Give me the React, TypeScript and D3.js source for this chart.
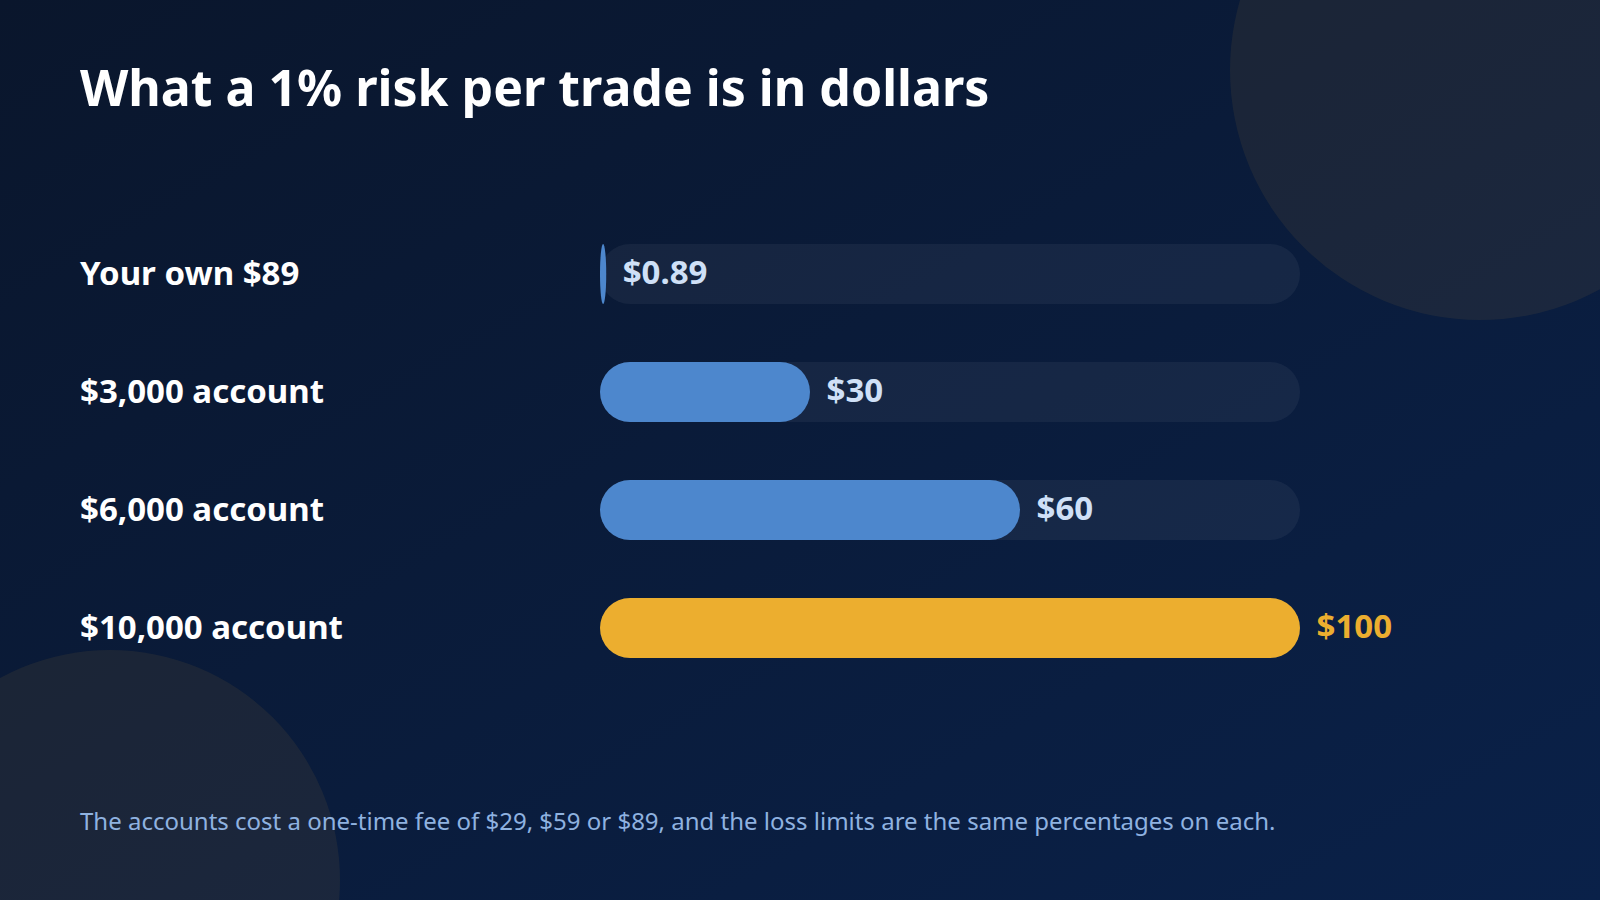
import { useEffect, useRef } from 'react';
import * as d3 from 'd3';

const WIDTH = 1600;
const HEIGHT = 900;

const categories = ['Your own $89', '$3,000 account', '$6,000 account', '$10,000 account'];
const riskValues = [0.89, 30, 60, 100];
const valueLabels = ['$0.89', '$30', '$60', '$100'];
const highlighted = [false, false, false, true];

const TITLE = 'What a 1% risk per trade is in dollars';
const FOOTNOTE =
  'The accounts cost a one-time fee of $29, $59 or $89, and the loss limits are the same percentages on each.';

const FONT = "'Noto Sans', 'Open Sans', sans-serif";

export default function App() {
  const svgRef = useRef<SVGSVGElement | null>(null);

  useEffect(() => {
    if (!svgRef.current) return;
    const svg = d3.select(svgRef.current);
    svg.selectAll('*').remove();

    const defs = svg.append('defs');
    const bg = defs
      .append('linearGradient')
      .attr('id', 'bg')
      .attr('x1', '0%')
      .attr('y1', '0%')
      .attr('x2', '100%')
      .attr('y2', '100%');
    bg.append('stop').attr('offset', '0%').attr('stop-color', '#0a162c');
    bg.append('stop').attr('offset', '100%').attr('stop-color', '#0a2149');

    svg.append('rect').attr('width', WIDTH).attr('height', HEIGHT).attr('fill', 'url(#bg)');

    // soft decorative circles
    svg.append('circle').attr('cx', 1480).attr('cy', 70).attr('r', 250).attr('fill', '#ecae2f').attr('opacity', 0.075);
    svg.append('circle').attr('cx', 110).attr('cy', 880).attr('r', 230).attr('fill', '#ecae2f').attr('opacity', 0.075);

    svg
      .append('text')
      .attr('x', 80)
      .attr('y', 106)
      .attr('fill', '#ffffff')
      .attr('font-family', FONT)
      .attr('font-size', 50)
      .attr('font-weight', 700)
      .text(TITLE);

    const xScale = d3.scaleLinear().domain([0, 100]).range([600, 1300]);
    const pad = 58 / 118;
    const yScale = d3
      .scaleBand<string>()
      .domain(categories)
      .range([215, 687])
      .paddingInner(pad)
      .paddingOuter(pad / 2);
    const bh = yScale.bandwidth();

    const rows = svg
      .append('g')
      .selectAll('g')
      .data(categories)
      .enter()
      .append('g')
      .attr('transform', (d) => `translate(0, ${yScale(d) ?? 0})`);

    rows
      .append('text')
      .attr('x', 80)
      .attr('y', bh / 2 + 10.5)
      .attr('fill', '#ffffff')
      .attr('font-family', FONT)
      .attr('font-size', 33)
      .attr('font-weight', 700)
      .text((d) => d);

    rows
      .append('rect')
      .attr('x', xScale(0))
      .attr('width', xScale(100) - xScale(0))
      .attr('height', bh)
      .attr('rx', bh / 2)
      .attr('fill', '#ffffff')
      .attr('opacity', 0.05);

    rows
      .append('rect')
      .attr('x', xScale(0))
      .attr('width', (_, i) => xScale(riskValues[i]) - xScale(0))
      .attr('height', bh)
      .attr('rx', bh / 2)
      .attr('fill', (_, i) => (highlighted[i] ? '#ecae2f' : '#4d87cd'));

    rows
      .append('text')
      .attr('x', (_, i) => xScale(riskValues[i]) + 16.5)
      .attr('y', bh / 2 + 10)
      .attr('fill', (_, i) => (highlighted[i] ? '#ecae2f' : '#cfe0f7'))
      .attr('font-family', FONT)
      .attr('font-size', 33)
      .attr('font-weight', 700)
      .text((_, i) => valueLabels[i]);

    svg
      .append('text')
      .attr('x', 80)
      .attr('y', 830)
      .attr('fill', '#8fb2e0')
      .attr('font-family', FONT)
      .attr('font-size', 24)
      .text(FOOTNOTE);
  }, []);

  return (
    <div style={{ position: 'fixed', left: 0, top: 0, width: WIDTH, height: HEIGHT }}>
      <svg ref={svgRef} width={WIDTH} height={HEIGHT} viewBox={`0 0 ${WIDTH} ${HEIGHT}`} style={{ display: 'block' }} />
    </div>
  );
}
